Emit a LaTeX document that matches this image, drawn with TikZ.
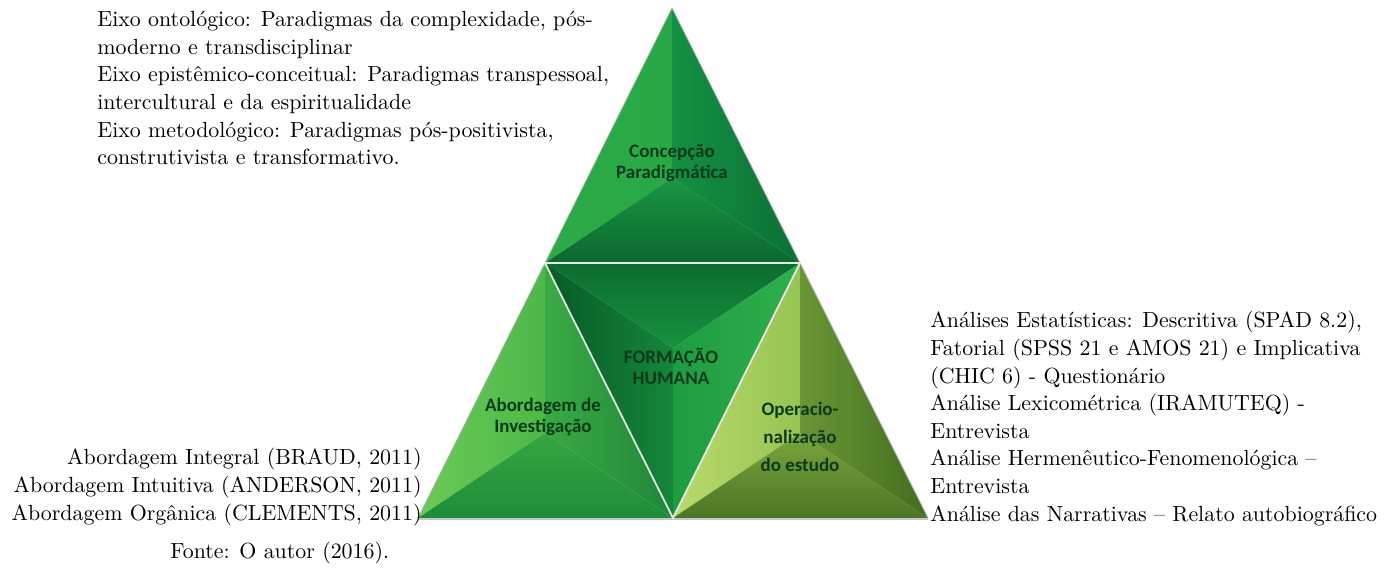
\documentclass[tikz,border=0pt]{standalone}
\usepackage{fontspec}
\newfontfamily\labelfont{Carlito}
\definecolor{labelgreen}{HTML}{0B3A1C}
\definecolor{sepgray}{HTML}{E4E8E4}

\begin{document}
\begin{tikzpicture}[x=0.5pt,y=-0.5pt]
\tikzstyle{every node}+=[inner sep=0pt]
\tikzstyle{side text}=[font=\fontsize{10.95}{13.8}\selectfont, align=left]
\tikzstyle{face label}=[font=\labelfont\bfseries\fontsize{9.5}{10.5}\selectfont, text=labelgreen, align=center]
\tikzstyle{sepline}=[sepgray, line width=0.9pt, line cap=round]
\useasboundingbox (0,0) rectangle (1393,570);
% corners of the pyramid
\coordinate (apex) at (672,8);
\coordinate (midL) at (545,263);
\coordinate (midR) at (800,263);
\coordinate (botL) at (418,518);
\coordinate (botM) at (673,518);
\coordinate (botR) at (928,518);
\coordinate (cTop) at (672,178);
\coordinate (cMid) at (673,348);
\coordinate (cLeft) at (545,433);
\coordinate (cRight) at (800,433);
% top triangle
\shade [left color={rgb,255:red,45;green,170;blue,72}, right color={rgb,255:red,40;green,168;blue,70}] (apex) -- (midL) -- (cTop) -- cycle;
\shade [left color={rgb,255:red,20;green,145;blue,66}, right color={rgb,255:red,10;green,112;blue,52}] (apex) -- (midR) -- (cTop) -- cycle;
\shade [top color={rgb,255:red,26;green,150;blue,68}, bottom color={rgb,255:red,10;green,104;blue,46}] (midL) -- (midR) -- (cTop) -- cycle;
% middle triangle
\shade [top color={rgb,255:red,12;green,108;blue,46}, bottom color={rgb,255:red,24;green,146;blue,64}] (midL) -- (midR) -- (cMid) -- cycle;
\shade [left color={rgb,255:red,8;green,90;blue,38}, right color={rgb,255:red,20;green,134;blue,58}] (midL) -- (botM) -- (cMid) -- cycle;
\shade [left color={rgb,255:red,30;green,156;blue,66}, right color={rgb,255:red,46;green,176;blue,74}] (midR) -- (botM) -- (cMid) -- cycle;
% left triangle
\shade [left color={rgb,255:red,108;green,202;blue,86}, right color={rgb,255:red,76;green,184;blue,72}] (midL) -- (botL) -- (cLeft) -- cycle;
\shade [left color={rgb,255:red,58;green,170;blue,68}, right color={rgb,255:red,30;green,134;blue,56}] (midL) -- (botM) -- (cLeft) -- cycle;
\shade [top color={rgb,255:red,54;green,166;blue,66}, bottom color={rgb,255:red,30;green,140;blue,56}] (botL) -- (botM) -- (cLeft) -- cycle;
% right triangle
\shade [left color={rgb,255:red,186;green,218;blue,108}, right color={rgb,255:red,150;green,196;blue,82}] (midR) -- (botM) -- (cRight) -- cycle;
\shade [left color={rgb,255:red,106;green,150;blue,54}, right color={rgb,255:red,66;green,110;blue,30}] (midR) -- (botR) -- (cRight) -- cycle;
\shade [top color={rgb,255:red,122;green,166;blue,62}, bottom color={rgb,255:red,76;green,118;blue,36}] (botM) -- (botR) -- (cRight) -- cycle;
% edges
\draw [gray!60, line width=0.4pt] (botL) -- (apex) -- (botR);
\draw [gray!45, line width=0.6pt] ([yshift=-0.5pt]botL) -- ([yshift=-0.5pt]botR);
\draw [sepline] (midL) -- (midR);
\draw [sepline] (midL) -- (botM) -- (midR);
% labels inside the pyramid
\node [face label] (concept) at (672,163) {Concepção\\Paradigmática};
\node [face label] (formation) at (671,366) {FORMAÇÃO\\HUMANA};
\node [face label] (approach) at (543,417) {Abordagem de\\Investigação};
\node [face label, font=\labelfont\bfseries\fontsize{9.5}{14}\selectfont] (operation) at (800,437) {Operacio-\\nalização\\do estudo};
% side texts
\node [side text, anchor=north west] (paradigms) at (97,11) {Eixo ontológico: Paradigmas da complexidade, pós-\\moderno e transdisciplinar\\Eixo epistêmico-conceitual: Paradigmas transpessoal,\\intercultural e da espiritualidade\\Eixo metodológico: Paradigmas pós-positivista,\\construtivista e transformativo.};
\node [side text, anchor=north west] (analyses) at (930,311) {Análises Estatísticas: Descritiva (SPAD 8.2),\\Fatorial (SPSS 21 e AMOS 21) e Implicativa\\(CHIC 6) - Questionário\\Análise Lexicométrica (IRAMUTEQ) -\\Entrevista\\Análise Hermenêutico-Fenomenológica --\\Entrevista\\Análise das Narrativas -- Relato autobiográfico};
\node [side text, align=right, anchor=north east] (approaches) at (422,448) {Abordagem Integral (BRAUD, 2011)\\Abordagem Intuitiva (ANDERSON, 2011)\\Abordagem Orgânica (CLEMENTS, 2011)};
\node [side text, anchor=base west] (source) at (170,558) {Fonte: O autor (2016).};
\end{tikzpicture}
\end{document}
